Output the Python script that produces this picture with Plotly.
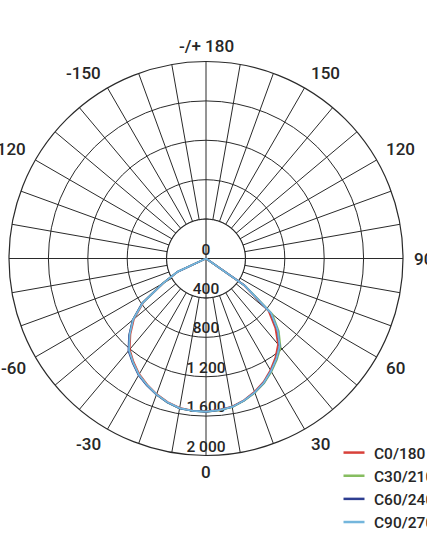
import numpy as np
import plotly.graph_objects as go

# ---------------- data ----------------
theta = [-70, -65, -60, -55, -50, -45, -40, -35, -30, -25, -20, -15, -10, -5, 0,
         5, 10, 15, 20, 25, 30, 35, 40, 45, 50, 55, 60]

c0_180 = [0, 310, 500, 775, 955, 1085, 1205, 1282, 1355, 1412, 1465, 1508, 1540, 1550, 1553,
          1543, 1527, 1490, 1440, 1382, 1308, 1228, 1138, 995, 830, 470, 0]
c30_210 = [0, 318, 508, 788, 970, 1100, 1218, 1292, 1364, 1419, 1470, 1513, 1545, 1553, 1556,
           1547, 1532, 1496, 1450, 1396, 1328, 1255, 1178, 1045, 878, 488, 0]
c60_240 = [0, 320, 510, 790, 972, 1105, 1225, 1296, 1368, 1422, 1471, 1513, 1545, 1553, 1556,
           1545, 1530, 1493, 1446, 1390, 1320, 1245, 1163, 1026, 859, 478, 0]
c90_270 = [0, 315, 505, 783, 966, 1097, 1216, 1290, 1362, 1417, 1468, 1511, 1543, 1552, 1555,
           1545, 1530, 1493, 1446, 1390, 1320, 1245, 1163, 1030, 862, 480, 0]

series_names = ["C0/180", "C30/210", "C60/240", "C90/270"]
series_values = [c0_180, c30_210, c60_240, c90_270]
series_colors = ["#d8413a", "#86bd60", "#2e3e91", "#74b6dc"]

radial_ticks = [400, 800, 1200, 1600, 2000]
radial_labels = ["0", "400", "800", "1 200", "1 600", "2 000"]
radial_label_pos = [0, 400, 800, 1200, 1600, 2000]

angle_tickvals = list(range(0, 360, 10))
angle_label_vals = [0, 30, 60, 90, 120, 150, 180, 210, 240, 270, 300, 330]
angle_label_text = ["0", "30", "60", "90", "120", "150", "-/+ 180",
                    "-150", "-120", "-90", "-60", "-30"]

GRID = "#2a2a2a"
TXT = "#262626"
FONT = "Roboto"

W, H = 427, 546
CX, CY, RPX = 206, 258.5, 197      # polar centre (px from top-left) and radius in px
LABEL_GAP = 10                      # px between outer ring and angle labels
VSHIFT = 5                          # pull labels above/below the ring towards it

fig = go.Figure()

# inner blank disc (radial spokes stop at the 400 ring)
circ = np.linspace(0, 360, 361)
fig.add_trace(go.Scatterpolar(r=[400] * len(circ), theta=circ, mode="lines",
                              fill="toself", fillcolor="white",
                              line=dict(color=GRID, width=1.1),
                              showlegend=False, hoverinfo="skip"))
# main axes through centre
fig.add_trace(go.Scatterpolar(r=[400, 0, 400], theta=[0, 0, 180], mode="lines",
                              line=dict(color=GRID, width=1.1),
                              showlegend=False, hoverinfo="skip"))
fig.add_trace(go.Scatterpolar(r=[400, 0, 400], theta=[90, 90, 270], mode="lines",
                              line=dict(color=GRID, width=1.1),
                              showlegend=False, hoverinfo="skip"))

# radial value labels
fig.add_trace(go.Scatterpolar(r=radial_label_pos, theta=[0] * len(radial_label_pos),
                              mode="text", text=radial_labels, textposition="top center",
                              textfont=dict(family=FONT, size=15.5, color=TXT, weight=500),
                              showlegend=False, hoverinfo="skip"))

# curves
for name, vals, col in zip(series_names, series_values, series_colors):
    fig.add_trace(go.Scatterpolar(r=vals, theta=theta, mode="lines",
                                  line=dict(color=col, width=1.8),
                                  name=name, showlegend=False))
# legend entries (short line samples)
for name, col in zip(series_names, series_colors):
    fig.add_trace(go.Scatterpolar(r=[None], theta=[None], mode="markers",
                                  marker=dict(symbol="line-ew", size=15,
                                              line=dict(width=2.5, color=col)),
                                  name=name, showlegend=True))

# angle labels around the outer ring
annotations = []
rho = RPX + LABEL_GAP
for a, t in zip(angle_label_vals, angle_label_text):
    s, c = np.sin(np.radians(a)), np.cos(np.radians(a))
    px = CX + rho * s
    py = CY + rho * c
    xa = "left" if s > 0.3 else ("right" if s < -0.3 else "center")
    ya = "top" if c > 0.3 else ("bottom" if c < -0.3 else "middle")
    ys = VSHIFT if c > 0.3 else (-VSHIFT if c < -0.3 else 0)
    annotations.append(dict(x=px / W, y=1 - py / H, xref="paper", yref="paper",
                            text=t, showarrow=False, xanchor=xa, yanchor=ya,
                            yshift=ys, borderpad=0,
                            font=dict(family=FONT, size=17, color=TXT, weight=500)))

fig.update_layout(
    width=W, height=H,
    margin=dict(l=0, r=0, t=0, b=0, autoexpand=False),
    paper_bgcolor="white",
    font=dict(family=FONT, size=15, color=TXT),
    polar=dict(
        domain=dict(x=[(CX - RPX) / W, (CX + RPX) / W],
                    y=[1 - (CY + RPX) / H, 1 - (CY - RPX) / H]),
        bgcolor="white",
        radialaxis=dict(range=[0, 2000], tickvals=radial_ticks, showticklabels=False,
                        ticks="", showline=False, gridcolor=GRID, gridwidth=1.1),
        angularaxis=dict(rotation=270, direction="counterclockwise",
                         tickvals=angle_tickvals, showticklabels=False, ticks="",
                         showline=True, linecolor=GRID, linewidth=1.2,
                         gridcolor=GRID, gridwidth=1.1),
    ),
    annotations=annotations,
    legend=dict(x=334 / W, xanchor="left", y=1 - 436 / H, yanchor="top",
                font=dict(family=FONT, size=15.5, color=TXT, weight=500),
                bgcolor="rgba(0,0,0,0)", tracegroupgap=0),
    showlegend=True,
)

fig.write_html("out.html", config={"displayModeBar": False},
               post_script="document.body.style.margin='0';document.body.style.padding='0';")
